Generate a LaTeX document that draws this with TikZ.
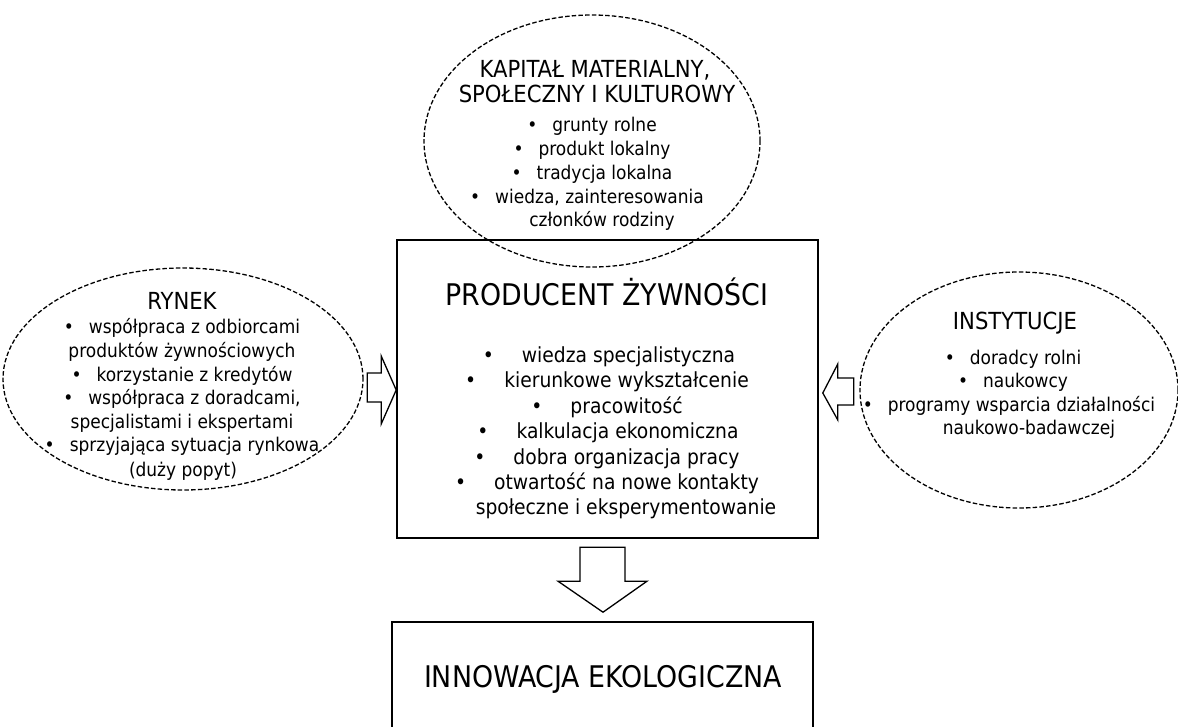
\documentclass[tikz,border=0pt]{standalone}
\usepackage{fontspec}
\setmainfont{DejaVu Sans Condensed}
\usetikzlibrary{shapes.geometric,calc}

\tikzset{
  box/.style={draw, line width=1.6pt, rectangle, inner sep=0pt},
  oval/.style={draw, ellipse, dash pattern=on 4.5pt off 2.2pt, line width=1.3pt, inner sep=0pt},
  blockarrow/.style={draw, line width=1.3pt, line join=miter, fill=white},
  ttl/.style={anchor=base, inner sep=0pt, font=\fontsize{29.8}{34}\selectfont},
  otl/.style={anchor=base, inner sep=0pt, font=\fontsize{23.5}{27}\selectfont},
  otx/.style={anchor=base, inner sep=0pt, font=\fontsize{18.9}{22}\selectfont},
  btx/.style={anchor=base, inner sep=0pt, font=\fontsize{20.8}{24}\selectfont},
}
\newcommand\eb{\textbullet\hspace{15pt}}
\newcommand\bb{\textbullet\hspace{28pt}}

\begin{document}
\begin{tikzpicture}[x=1pt, y=-1pt]
\useasboundingbox (0,0) rectangle (1178,726);

% central box and outcome box
\node[box, minimum width=421, minimum height=298] (prod) at (607.5,389) {};
\node[box, minimum width=421, minimum height=150] (innov) at (602.5,697) {};

% surrounding capital ovals
\node[oval, minimum width=336, minimum height=252] (kap) at (592,141) {};
\node[oval, minimum width=360, minimum height=222] (ryn) at (183,379) {};
\node[oval, minimum width=318, minimum height=236] (ins) at (1019,390) {};

% texts of the top oval
\node[otl] (k1) at (595,77)  {KAPITAŁ MATERIALNY,};
\node[otl] (k2) at (597,102) {SPOŁECZNY I KULTUROWY};
\node[otx] (k3) at (592,131) {\eb grunty rolne};
\node[otx] (k4) at (592,155) {\eb produkt lokalny};
\node[otx] (k5) at (592,179) {\eb tradycja lokalna};
\node[otx] (k6) at (587,203) {\eb wiedza, zainteresowania};
\node[otx] (k7) at (602,226) {członków rodziny};

% texts of the left oval
\node[otl] (r0) at (182,309) {RYNEK};
\node[otx] (r1) at (182,333) {\eb współpraca z odbiorcami};
\node[otx] (r2) at (182,357) {produktów żywnościowych};
\node[otx] (r3) at (182,381) {\eb korzystanie z kredytów};
\node[otx] (r4) at (182,404) {\eb współpraca z doradcami,};
\node[otx] (r5) at (182,428) {specjalistami i ekspertami};
\node[otx] (r6) at (182,451) {\eb sprzyjająca sytuacja rynkowa};
\node[otx] (r7) at (183,476) {(duży popyt)};

% texts of the right oval
\node[otl] (i0) at (1015,329) {INSTYTUCJE};
\node[otx] (i1) at (1013,364) {\eb doradcy rolni};
\node[otx] (i2) at (1013,387) {\eb naukowcy};
\node[otx] (i3) at (1009,411) {\eb programy wsparcia działalności};
\node[otx] (i4) at (1029,434) {naukowo-badawczej};

% texts of the central box
\node[ttl] (p0) at (607,305) {PRODUCENT ŻYWNOŚCI};
\node[btx] (p1) at (609,362) {\bb wiedza specjalistyczna};
\node[btx] (p2) at (607,387.5) {\bb kierunkowe wykształcenie};
\node[btx] (p3) at (607,413) {\bb pracowitość};
\node[btx] (p4) at (608,438.5) {\bb kalkulacja ekonomiczna};
\node[btx] (p5) at (607,464) {\bb dobra organizacja pracy};
\node[btx] (p6) at (607,489.5) {\bb otwartość na nowe kontakty};
\node[btx] (p7) at (626,514) {społeczne i eksperymentowanie};

% text of the outcome box
\node[ttl] (n0) at (603,687) {INNOWACJA EKOLOGICZNA};

% block arrows pointing into the boxes
\coordinate (ltip) at (prod.west |- 0,390);
\draw[blockarrow] (ltip) -- ++(-15,-34) -- ++(0,17) -- ++(-14,0) -- ++(0,29)
  -- ++(14,0) -- ++(0,22) -- cycle;
\coordinate (rtip) at ($(prod.east |- 0,393)+(4,0)$);
\draw[blockarrow] (rtip) -- ++(15,-29) -- ++(0,14) -- ++(16,0) -- ++(0,27)
  -- ++(-16,0) -- ++(0,15) -- cycle;
\coordinate (dtip) at ($(innov.north -| 603,0)+(0,-9)$);
\draw[blockarrow] (dtip) -- ++(-45,-31) -- ++(22,0) -- ++(0,-34) -- ++(45,0)
  -- ++(0,34) -- ++(22,0) -- cycle;
\end{tikzpicture}
\end{document}
